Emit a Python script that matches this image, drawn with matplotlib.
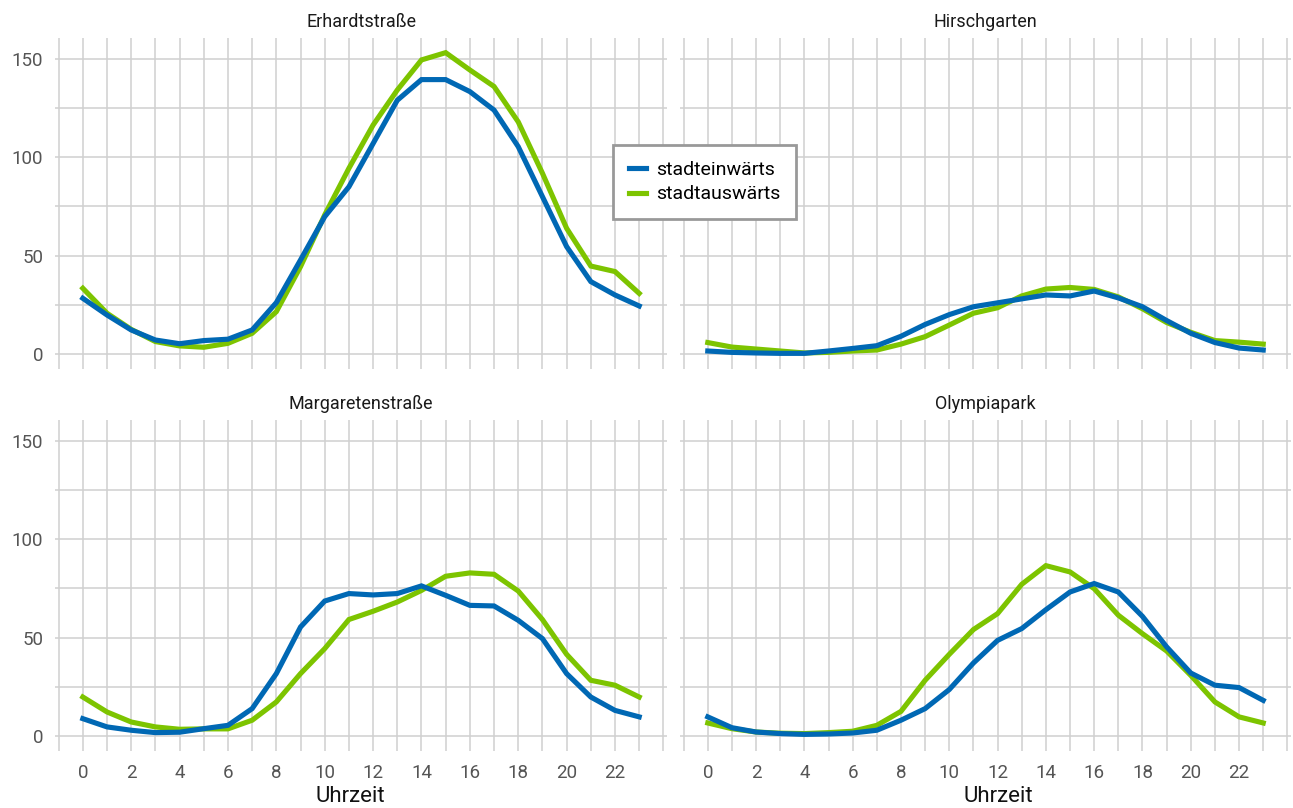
import matplotlib
matplotlib.use("Agg")
import matplotlib.pyplot as plt
from matplotlib.lines import Line2D

hours = list(range(24))
panels = ["Erhardtstraße", "Hirschgarten", "Margaretenstraße", "Olympiapark"]
series_names = ["stadteinwärts", "stadtauswärts"]
x_title = "Uhrzeit"

erhardt_ein = [28.3, 19.8, 12.2, 7.1, 5.2, 6.8, 7.5, 12.2, 26.1, 47.8, 69.8, 85.0,
               107.0, 129.0, 139.5, 139.5, 133.4, 124.0, 105.4, 80.0, 54.6, 36.8, 30.0, 24.4]
erhardt_aus = [33.4, 20.7, 12.5, 6.3, 4.1, 3.4, 5.4, 10.5, 21.5, 44.4, 70.7, 94.4,
               116.4, 134.2, 149.5, 153.2, 144.4, 136.0, 118.0, 91.9, 63.9, 44.7, 41.9, 30.8]
hirsch_ein = [1.5, 0.8, 0.5, 0.3, 0.3, 1.5, 2.8, 4.2, 9.0, 15.0, 20.0, 24.0,
              26.0, 28.0, 30.0, 29.5, 32.0, 28.5, 24.0, 17.0, 10.5, 5.8, 3.0, 2.0]
hirsch_aus = [5.8, 3.5, 2.5, 1.5, 0.5, 0.8, 1.5, 2.0, 5.0, 8.8, 14.7, 20.7,
              23.5, 29.5, 33.0, 33.8, 32.8, 29.0, 23.0, 16.0, 11.0, 6.8, 6.0, 5.0]
marg_ein = [8.8, 4.6, 2.9, 1.7, 1.9, 3.7, 5.4, 13.9, 31.7, 55.4, 68.6, 72.4,
            71.7, 72.4, 76.3, 71.5, 66.4, 66.1, 58.8, 49.5, 31.7, 19.8, 13.0, 9.7]
marg_aus = [19.8, 12.2, 7.1, 4.6, 3.4, 3.6, 3.6, 8.0, 17.3, 31.7, 44.4, 59.2,
            63.4, 68.1, 74.0, 81.2, 82.9, 82.2, 73.7, 59.2, 41.5, 28.3, 25.8, 19.8]
olymp_ein = [9.7, 4.2, 2.0, 1.2, 0.8, 1.0, 1.5, 2.9, 8.0, 13.9, 23.6, 37.1,
             48.6, 54.6, 64.2, 73.2, 77.5, 73.2, 60.8, 45.3, 32.0, 25.8, 24.6, 18.1]
olymp_aus = [6.6, 3.7, 2.0, 1.4, 1.2, 1.7, 2.4, 5.4, 12.5, 28.3, 41.5, 54.1,
             62.2, 77.1, 86.6, 83.4, 74.9, 61.4, 52.0, 43.2, 30.8, 17.3, 9.7, 6.6]

data = {
    "Erhardtstraße": (erhardt_ein, erhardt_aus),
    "Hirschgarten": (hirsch_ein, hirsch_aus),
    "Margaretenstraße": (marg_ein, marg_aus),
    "Olympiapark": (olymp_ein, olymp_aus),
}
colors = ["#0068B4", "#7DC400"]

plt.rcParams["font.family"] = ["Roboto", "DejaVu Sans"]

W, H = 1293, 808
fig = plt.figure(figsize=(W / 100, H / 100), dpi=100)

boxes = [
    (55, 38, 667, 369), (680, 38, 1291, 369),
    (55, 420, 667, 751), (680, 420, 1291, 751),
]
xlabel_pos = [None, None, 350, 998]
grid_c = "#d0d0d0"
for i, (name, (x0, y0, x1, y1)) in enumerate(zip(panels, boxes)):
    ax = fig.add_axes([x0 / W, 1 - y1 / H, (x1 - x0) / W, (y1 - y0) / H])
    for s in ax.spines.values():
        s.set_visible(False)
    ax.set_xlim(-1.15, 24.15)
    ax.set_ylim(-7.65, 160.65)
    for xv in range(-1, 25):
        ax.axvline(xv, color=grid_c, lw=1.1, zorder=0)
    for yv in range(0, 151, 25):
        ax.axhline(yv, color=grid_c, lw=1.1, zorder=0)
    ein, aus = data[name]
    ax.plot(hours, aus, color=colors[1], lw=3.7, solid_joinstyle="miter", zorder=2)
    ax.plot(hours, ein, color=colors[0], lw=3.7, solid_joinstyle="miter", zorder=3)
    ax.set_title(name, fontsize=13, color="#1a1a1a", pad=8)
    ax.tick_params(axis="y", length=0, labelsize=13.5, labelcolor="#555555", pad=8.5)
    ax.tick_params(axis="x", length=0, labelsize=13.5, labelcolor="#555555", pad=9)
    ax.set_yticks([0, 50, 100, 150])
    ax.set_xticks(list(range(0, 24, 2)))
    if i % 2 == 1:
        ax.set_yticklabels([])
    if i < 2:
        ax.set_xticklabels([])
    else:
        fig.text(xlabel_pos[i] / W, 1 - 796 / H, x_title, fontsize=16,
                 color="#111111", ha="center", va="center")

handles = [Line2D([], [], color=c, lw=3.7) for c in colors]
leg = fig.legend(handles, series_names, loc="upper left",
                 bbox_to_anchor=(613 / W, 1 - 145 / H), frameon=True,
                 fancybox=False, fontsize=14, handlelength=0.9,
                 handletextpad=0.5, borderpad=0.8, labelspacing=0.35,
                 borderaxespad=0)
fr = leg.get_frame()
fr.set_edgecolor("#999999")
fr.set_linewidth(2)
fr.set_facecolor("white")
fr.set_alpha(1)

fig.savefig("out.png", dpi=100)
